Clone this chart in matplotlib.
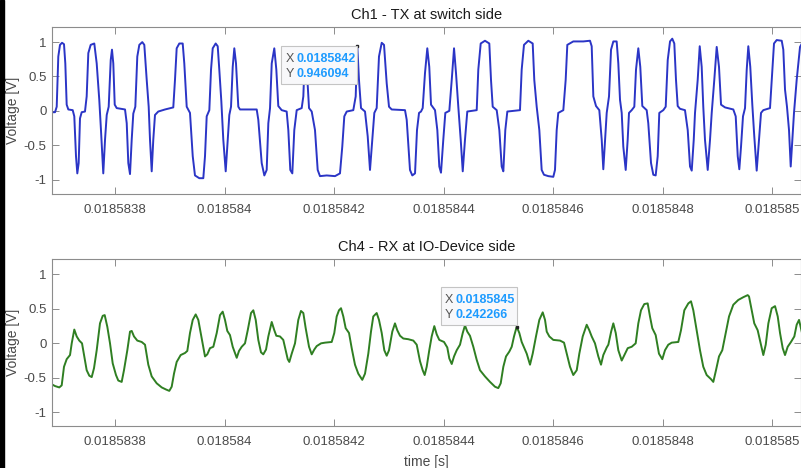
import matplotlib
matplotlib.use("Agg")
import matplotlib.pyplot as plt
from matplotlib.patches import Rectangle

plt.rcParams['font.family'] = ['Liberation Sans', 'DejaVu Sans']
plt.rcParams['axes.unicode_minus'] = False

# time window: left edge in seconds, samples given in ns after it
T0 = 0.018583685
SPAN_NS = 1368.2

# Ch1 - TX at switch side (vertices)
ch1_ns = [-4, 5.5, 8.6, 11.5, 14.6, 18.3, 21.9, 24.3, 26.8, 29.8, 37.8, 40.7, 43.8, 46.2, 48.7, 51.1,
          54.2, 60.2, 63.3, 66.3, 70.6, 77.2, 81.6, 86.3, 89.4, 93.6, 96.8, 99.9, 103.5, 107.2, 109.5,
          111.9, 114.5, 118.1, 133.3, 136.4, 139.3, 142.4, 145.5, 148.4, 152.1, 155.7, 159.4, 164.8,
          168.5, 172.9, 176.5, 178.9, 182, 184.9, 188, 194, 206.3, 221.4, 224.5, 227.6, 232.4, 238.6,
          241.5, 245.9, 251.9, 256.9, 261, 268.9, 276.2, 279.3, 282.4, 287.2, 290.3, 293.4, 298.8,
          302.5, 305.4, 309.1, 312.7, 317.1, 320.7, 323.7, 326.8, 329.9, 332.8, 335.9, 340.1, 343.2,
          373.7, 376.6, 382.8, 387.6, 391.9, 394.9, 398, 401.1, 405.8, 409.5, 413.1, 419.3, 428.4,
          431.4, 435, 438.7, 442.3, 446.7, 455.8, 458.8, 461.9, 465.5, 469.2, 474.1, 480.1, 485,
          489.2, 501.5, 516.6, 525.7, 529.9, 533.6, 538, 550, 554.4, 557.3, 560.4, 564.1, 571.4,
          576.3, 580.5, 584.7, 588.4, 592.7, 596.9, 601.9, 606.1, 611, 615.2, 620.1, 644.4, 647.5,
          653.5, 657.7, 662.7, 666.3, 670, 673.6, 676.7, 680.9, 685.1, 688.7, 691.9, 699.2, 703.4,
          707, 710.1, 714.3, 718, 725.3, 729.7, 733.9, 737.5, 741.7, 746.1, 749.8, 753.9, 758.1,
          775.3, 778.2, 782.6, 790.4, 798.3, 801.4, 804.5, 811.8, 816.6, 820.9, 823.9, 827.5, 831.2,
          854.3, 857.4, 861.6, 869.5, 877.5, 880.4, 884.8, 889.6, 893.9, 898.1, 906, 915.1, 918.2,
          921.3, 924.2, 933.4, 937.7, 940.7, 951.6, 969.9, 982.1, 985.2, 988.2, 993.1, 999.1, 1003.5,
          1006.4, 1009.5, 1012.6, 1016.8, 1020.5, 1024.7, 1030.8, 1033.8, 1036.9, 1040, 1042.9,
          1047.3, 1050.9, 1053.3, 1058.2, 1063, 1066.1, 1070.3, 1073.9, 1077.6, 1085.6, 1088.5,
          1093.5, 1097.7, 1102, 1105.7, 1108.6, 1115.9, 1120.3, 1124, 1128.2, 1132.3, 1136, 1139.1,
          1142.2, 1146.4, 1155.5, 1160.5, 1164.7, 1167.8, 1171.5, 1173.8, 1178.7, 1182.4, 1186,
          1188.9, 1192, 1197, 1201.2, 1204.3, 1209, 1213.4, 1217.6, 1221.3, 1228.6, 1243.7, 1248.1,
          1251.8, 1254.7, 1257.8, 1261.4, 1265.1, 1268.2, 1271.1, 1274.7, 1278.4, 1282, 1286.4,
          1290.6, 1294.3, 1298.5, 1310.7, 1313.8, 1318, 1322.9, 1332.1, 1335, 1338.1, 1341.7, 1345.4,
          1348.5, 1351.4, 1354.5, 1359.4, 1365.5, 1369]
ch1_v = [-0.02, -0.02, 0.06, 0.79, 0.96, 0.99, 0.97, 0.69, 0.09, 0.02, 0.01, -0.08, -0.66, -0.91, -0.76, -0.11,
         -0.02, -0.01, 0.21, 0.84, 0.96, 0.98, 0.69, 0.16, -0.28, -0.91, -0.42, -0.06, 0.06, 0.74, 0.89,
         0.69, 0.09, 0.04, 0.02, -0.18, -0.76, -0.92, -0.42, -0.04, 0.06, 0.79, 0.96, 1.0,
         0.96, 0.45, 0.06, -0.42, -0.88, -0.42, -0.06, -0.01, 0.02, 0.05, 0.45, 0.91, 0.98, 0.98,
         0.69, 0.06, -0.03, -0.66, -0.94, -0.98, -0.98, -0.66, -0.08, 0.01, 0.6, 0.91, 0.98,
         0.94, 0.6, 0.14, -0.42, -0.88, -0.42, -0.06, 0.06, 0.64, 0.91, 0.69, 0.06, 0.02,
         0.02, -0.13, -0.76, -0.94, -0.86, -0.18, 0.04, 0.69, 0.91, 0.6, 0.07, 0.01, -0.01,
         -0.28, -0.86, -0.91, -0.28, 0.01, 0.04, 0.21, 0.89, 0.55, 0.04, -0.01, -0.28, -0.86,
         -0.95, -0.94, -0.95, -0.91, -0.52, -0.08, -0.01, 0.01, 0.21, 0.946, 0.45, 0.04, -0.01,
         -0.37, -0.86, -0.42, -0.03, 0.04, 0.79, 0.99, 0.96, 0.4, 0.06, 0.02, 0.01, -0.13,
         -0.86, -0.94, -0.91, -0.28, -0.03, -0.01, 0.04, 0.55, 0.91, 0.64, 0.09, 0.01, -0.28,
         -0.81, -0.9, -0.42, -0.03, 0.0, 0.45, 0.91, 0.55, 0.06, -0.42, -0.88, -0.42, -0.01,
         0.01, 0.6, 0.98, 1.02, 0.98, 0.45, 0.06, 0.01, -0.28, -0.81, -0.88, -0.28, -0.01,
         0.01, 0.6, 0.96, 1.02, 0.98, 0.45, 0.06, -0.28, -0.86, -0.93, -0.95, -0.96, -0.86,
         -0.28, -0.03, 0.01, 0.45, 0.96, 1.01, 1.01, 1.02, 0.94, 0.21, 0.07, 0.01, -0.42,
         -0.85, -0.45, -0.03, 0.21, 0.89, 1.01, 1.01, 0.69, 0.16, -0.03, -0.52,
         -0.86, -0.42, -0.03, 0.01, 0.06, 0.6, 0.91, 0.64, 0.07, 0.01, -0.18,
         -0.76, -0.93, -0.94, -0.66, -0.03, 0.01, 0.06, 0.74, 1.01, 1.05, 0.98, 0.45,
         0.07, 0.03, 0.01, -0.28, -0.81, -0.87, -0.42, -0.03, 0.45, 0.94, 0.64,
         0.06, -0.42, -0.86, -0.42, -0.03, 0.45, 0.93, 0.64, 0.09, 0.05, 0.02, -0.08,
         -0.66, -0.85, -0.52, -0.08, 0.04, 0.6, 0.94, 0.64, 0.09, -0.37, -0.87,
         -0.42, -0.03, 0.01, 0.04, 0.45, 0.98, 1.03, 1.02, 0.89, 0.31, 0.06, -0.28,
         -0.81, -0.42, -0.03, 0.45, 0.93, 0.98]

# Ch4 - RX at IO-Device side
ch4_ns = [-3.7, 5.5, 13.3, 17.7, 21.9, 26.8, 32.9, 36, 40.7, 45.1, 49.8, 54.8, 59, 63.3, 68.1, 72.5,
          76.7, 81.6, 87.6, 92.6, 96.2, 101, 105.9, 110.8, 116.8, 121, 127.2, 131.4, 137.5, 142.4,
          145.5, 149.7, 155.7, 163.7, 169.8, 175.8, 182, 191.1, 200.3, 208.1, 214.1, 218.5, 222.7,
          227.6, 234.9, 242.8, 247, 251.9, 256.9, 262.3, 267.1, 273.3, 279.3, 283.5, 288.4, 294.5,
          300.7, 306.7, 311.6, 315.8, 320, 324.9, 329.9, 337.2, 341.4, 346.3, 352.3, 357.3, 363.3,
          367.5, 371.9, 376.6, 381.5, 385.7, 390.7, 394.9, 401.1, 405.8, 409.5, 416.2, 422.2, 426.6,
          430.3, 433.2, 437.6, 443.6, 449.6, 454.5, 458.8, 463.1, 469.2, 474.1, 478.8, 483.2, 491.1,
          498.4, 510.6, 515.3, 519.7, 523.9, 527.6, 531.8, 536.1, 542.2, 547.1, 553.1, 559.1, 566.4,
          571.4, 577.4, 582.3, 586.5, 592.7, 596.9, 601.9, 606.6, 611, 615.2, 621.2, 626.1, 630.3,
          635.3, 641.3, 650.4, 659.6, 665.8, 671.8, 676.7, 680.3, 684, 688.7, 693.1, 697.9, 702.3,
          707, 715.6, 721.6, 725.3, 729.7, 733.9, 738.8, 744.8, 749.8, 753.9, 758.1, 763, 769.1,
          775.3, 781.3, 790.4, 799.6, 808.7, 814.7, 819.1, 823.9, 828.8, 834.8, 839.2, 843.4, 848.3,
          853.1, 857.4, 866.6, 872.6, 877.5, 883.5, 889.6, 895.8, 900, 903.1, 907.9, 915.1, 927.4,
          934.7, 939.7, 945.6, 951.6, 957.9, 962.6, 968.8, 976.1, 980.8, 985.2, 991.2, 997.3, 1002.2,
          1006.4, 1012.6, 1015.6, 1020.7, 1024.7, 1029.1, 1033.8, 1040, 1044.8, 1051, 1058.2, 1065.5,
          1070.3, 1075.2, 1081.2, 1087.4, 1091.6, 1095.8, 1102, 1108, 1114.1, 1119, 1125, 1131.3,
          1143.3, 1148.2, 1154.3, 1161.6, 1166.5, 1170.7, 1176.9, 1182.9, 1188.9, 1195.1, 1203,
          1207.2, 1212.1, 1217.6, 1223.6, 1229.8, 1235.9, 1243.7, 1252.8, 1262, 1270, 1272.4, 1277.3,
          1282, 1288.2, 1294.3, 1298.5, 1302.9, 1307.7, 1313.8, 1319.9, 1324.8, 1329, 1333.9, 1338.1,
          1343, 1349, 1355.1, 1359.4, 1363.7, 1368.6]
ch4_v = [-0.58, -0.62, -0.64, -0.61, -0.34, -0.23, -0.17, 0.0, 0.2, 0.1, 0.04, 0.0, -0.19, -0.39, -0.47, -0.49,
         -0.36, -0.1, 0.29, 0.4, 0.41, 0.24, 0.0, -0.29, -0.46, -0.54, -0.56, -0.39, -0.1, 0.17,
         0.18, 0.1, 0.04, 0.02, -0.02, -0.31, -0.48, -0.58, -0.64, -0.67, -0.69, -0.63, -0.44,
         -0.27, -0.17, -0.14, -0.11, 0.15, 0.34, 0.42, 0.34, 0.07, -0.19, -0.16, -0.07, -0.05,
         0.15, 0.41, 0.46, 0.34, 0.18, 0.12, -0.05, -0.21, -0.11, -0.05, 0.0, 0.19, 0.44,
         0.48, 0.34, 0.05, -0.13, -0.16, -0.09, 0.1, 0.31, 0.19, 0.11, 0.1, 0.05, -0.1,
         -0.23, -0.27, -0.15, 0.0, 0.34, 0.47, 0.44, 0.22, -0.05, -0.16, -0.09, -0.04, 0.0,
         0.01, 0.02, 0.15, 0.39, 0.48, 0.51, 0.39, 0.22, 0.15, -0.07, -0.31, -0.44, -0.53,
         -0.44, -0.15, 0.17, 0.39, 0.44, 0.34, 0.15, -0.1, -0.18, -0.1, 0.17, 0.29, 0.19,
         0.11, 0.07, 0.06, 0.04, -0.02, -0.26, -0.39, -0.46, -0.34, -0.1, 0.1, 0.25, 0.13,
         0.05, 0.02, -0.06, -0.22, -0.3, -0.19, -0.1, -0.02, 0.15, 0.26, 0.17, 0.11, -0.05,
         -0.24, -0.39, -0.48, -0.56, -0.63, -0.65, -0.58, -0.34, -0.19, -0.12, -0.05, 0.1, 0.242,
         0.15, 0.02, -0.15, -0.31, -0.15, 0.1, 0.34, 0.45, 0.34, 0.17, 0.1, 0.05, 0.04,
         0.01, -0.15, -0.34, -0.46, -0.39, -0.15, 0.1, 0.27, 0.19, 0.1, 0.0, -0.19, -0.31,
         -0.17, -0.06, -0.02, 0.17, 0.29, 0.15, -0.1, -0.25, -0.17, -0.07, -0.05, 0.0,
         0.29, 0.48, 0.57, 0.58, 0.39, 0.22, 0.12, -0.15, -0.23, -0.1, -0.02, 0.01,
         0.02, 0.19, 0.48, 0.58, 0.61, 0.48, 0.19, -0.1, -0.34, -0.46, -0.52,
         -0.56, -0.39, -0.19, -0.1, 0.15, 0.39, 0.56, 0.63, 0.67, 0.7, 0.68, 0.48,
         0.29, 0.19, -0.02, -0.17, -0.02, 0.29, 0.51, 0.54, 0.39, 0.15, -0.07, -0.17,
         -0.05, 0.02, 0.1, 0.27, 0.34, 0.17]

xtick_vals = [0.0185838, 0.018584, 0.0185842, 0.0185844, 0.0185846, 0.0185848, 0.018585]
xtick_labels = ['0.0185838', '0.018584', '0.0185842', '0.0185844', '0.0185846', '0.0185848', '0.018585']
ytick_vals = [-1, -0.5, 0, 0.5, 1]
ytick_labels = ['-1', '-0.5', '0', '0.5', '1']

# data tips: time [ns after T0], value, shown X text, shown Y text
tip1 = (557.3, 0.946, '0.0185842', '0.946094')
tip4 = (848.3, 0.242, '0.0185845', '0.242266')

W, H = 801, 468
fig = plt.figure(figsize=(W / 100, H / 100), dpi=100)
fig.patch.set_facecolor('white')

ax1 = fig.add_axes([52 / W, 1 - 194 / H, 749.5 / W, 167 / H])
ax2 = fig.add_axes([52 / W, 1 - 426 / H, 749.5 / W, 166.7 / H])


def to_time(ns_list):
    return [T0 + n * 1e-9 for n in ns_list]


def style(ax, title, ylim):
    ax.set_xlim(T0, T0 + SPAN_NS * 1e-9)
    ax.set_ylim(*ylim)
    ax.set_xticks(xtick_vals)
    ax.set_xticklabels(xtick_labels)
    ax.set_yticks(ytick_vals)
    ax.set_yticklabels(ytick_labels)
    ax.tick_params(direction='in', top=True, right=True, length=5, width=0.7,
                   color='#8c8c8c', labelcolor='#4a4a4a', labelsize=9.5)
    ax.tick_params(axis='x', pad=7)
    ax.tick_params(axis='y', pad=4)
    for sp in ax.spines.values():
        sp.set_color('#8c8c8c')
        sp.set_linewidth(0.8)
    ax.set_title(title, fontsize=10.5, color='#1a1a1a', pad=6)
    ax.set_ylabel('Voltage [V]', fontsize=10, color='#4a4a4a')
    ax.yaxis.set_label_coords(-32 / 749.5, 0.5)


ax1.plot(to_time(ch1_ns), ch1_v, color='#2b35c6', lw=1.4)
style(ax1, 'Ch1 - TX at switch side', (-1.21, 1.22))

ax2.plot(to_time(ch4_ns), ch4_v, color='#2f7f22', lw=1.4)
style(ax2, 'Ch4 - RX at IO-Device side', (-1.2, 1.22))
ax2.set_xlabel('time [s]', fontsize=10, color='#4a4a4a', labelpad=5)


def datatip(ax, tip, below):
    ns, v, xs, ys = tip
    t = T0 + ns * 1e-9
    ax.plot([t], [v], 's', ms=2, color='#222222', zorder=5)
    px, py = ax.transData.transform((t, v))
    if below:
        x0, y0 = px - 76, py - 38
        ty_x, ty_y = py - 13, py - 28
    else:
        x0, y0 = px - 76, py + 1.7
        ty_x, ty_y = py + 26.7, py + 11.7
    fig.add_artist(Rectangle((x0 / W, y0 / H), 76 / W, 37.5 / H, transform=fig.transFigure,
                             facecolor='#f8f8fa', edgecolor='#c4c4c4', lw=0.8, zorder=4))
    for yy, letter, val in ((ty_x, 'X', xs), (ty_y, 'Y', ys)):
        fig.text((px - 72) / W, yy / H, letter, fontsize=9, color='#555555', va='center', zorder=6)
        fig.text((px - 61) / W, yy / H, val, fontsize=9, color='#1e9bff', fontweight='bold',
                 va='center', zorder=6)


datatip(ax1, tip1, True)
datatip(ax2, tip4, False)

# black frame edge at the left of the screenshot
fig.add_artist(Rectangle((0, 0), 3.5 / W, 1, transform=fig.transFigure, color='black', zorder=10))

fig.savefig('out.png', dpi=100)
